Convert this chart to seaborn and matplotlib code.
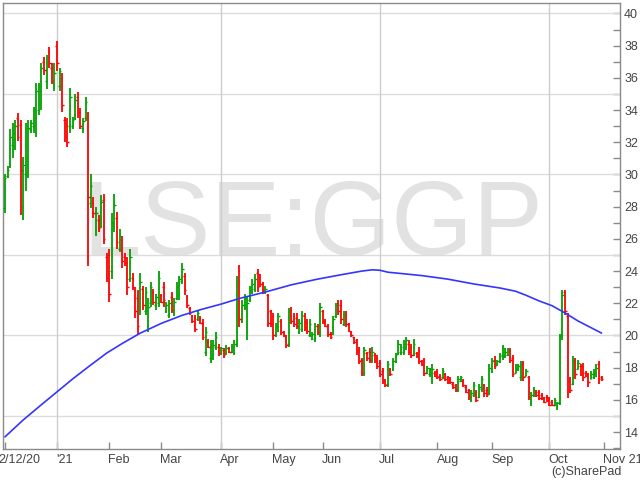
import matplotlib
matplotlib.use('Agg')
import matplotlib.pyplot as plt
import matplotlib.transforms as mtransforms
import seaborn as sns
import pandas as pd

# one bar per trading day, 2 Dec 2020 .. 29 Oct 2021
bar_open = [
    27.9, 29.9, 30.6, 31.8, 32.2, 33.5, 33.1, 28.0, 30.0, 31.0,
    32.8, 33.0, 33.5, 34.0, 35.2, 37.0, 35.8, 37.6, 36.6, 35.6,
    38.0, 35.5, 36.0, 33.4, 33.0, 33.0, 33.0, 33.7, 34.8, 33.9,
    32.9, 33.5, 33.6, 28.2, 28.3, 26.6, 27.2, 27.0, 28.4, 24.9,
    25.0, 24.0, 26.8, 27.3, 25.4, 25.9, 24.9, 24.5, 23.5, 23.6,
    22.8, 22.3, 21.6, 22.9, 21.5, 20.6, 22.0, 22.7, 21.9, 22.0,
    22.5, 23.0, 21.5, 21.3, 22.4, 21.4, 22.3, 22.5, 23.4, 23.7,
    22.4, 21.7, 21.2, 21.1, 21.0, 21.1, 20.8, 19.0, 19.6, 18.6,
    18.8, 19.3, 19.3, 18.9, 19.1, 18.9, 19.2, 19.0, 19.0, 19.5,
    24.0, 21.0, 21.9, 20.2, 22.2, 22.7, 22.9, 23.9, 23.6, 23.2,
    22.7, 22.5, 21.5, 21.2, 20.0, 20.3, 20.9, 20.2, 19.9, 19.5,
    21.6, 21.2, 21.1, 20.3, 20.4, 21.2, 20.8, 20.0, 19.8, 19.8,
    20.6, 20.1, 21.5, 20.9, 20.6, 20.1, 20.1, 21.2, 22.0, 21.9,
    20.7, 21.3, 20.7, 20.2, 19.9, 19.7, 19.1, 18.5, 17.7, 18.9,
    19.0, 18.5, 18.8, 18.6, 18.3, 17.8, 17.2, 17.0, 17.9, 17.9,
    18.4, 18.9, 19.0, 19.0, 19.3, 19.5, 19.3, 18.8, 18.9, 19.1,
    18.4, 18.4, 17.7, 17.6, 17.2, 17.7, 17.8, 17.5, 17.4, 17.6,
    17.4, 17.3, 17.0, 16.9, 16.7, 17.2, 17.2, 16.8, 16.6, 16.0,
    16.3, 16.5, 16.2, 16.7, 16.9, 16.6, 16.4, 17.9, 18.5, 18.2,
    18.4, 18.7, 18.8, 18.8, 19.1, 18.6, 17.7, 17.9, 17.4, 18.2,
    17.5, 17.4, 15.8, 16.3, 16.5, 16.5, 16.3, 16.1, 16.2, 16.1,
    15.9, 15.7, 15.6, 15.9, 20.0, 22.7, 21.2, 17.3, 17.0, 18.4,
    17.9, 18.1, 18.1, 17.7, 17.6, 17.3, 17.4, 17.5, 18.2, 17.4,
]
bar_high = [
    30.0, 30.5, 32.8, 33.2, 33.4, 33.8, 33.4, 31.1, 33.2, 33.4,
    33.4, 34.2, 35.7, 35.7, 36.9, 37.3, 37.4, 37.9, 36.9, 36.9,
    38.3, 36.6, 36.3, 33.6, 33.5, 35.4, 33.6, 35.0, 35.1, 34.1,
    33.5, 34.8, 33.9, 30.0, 28.6, 28.0, 27.5, 28.7, 28.8, 25.1,
    25.4, 27.6, 28.8, 27.7, 26.6, 26.2, 25.1, 24.9, 25.4, 23.9,
    23.0, 22.8, 23.9, 23.1, 23.0, 22.3, 23.3, 22.9, 22.6, 24.0,
    22.6, 23.3, 22.1, 22.2, 22.7, 22.3, 23.3, 23.7, 24.5, 23.9,
    22.5, 21.8, 21.3, 21.3, 21.6, 21.2, 21.0, 20.5, 19.8, 19.7,
    19.7, 20.2, 19.5, 19.3, 19.2, 19.4, 19.3, 19.5, 19.7, 23.7,
    24.4, 22.2, 22.6, 22.4, 23.1, 23.5, 23.8, 24.1, 23.8, 23.3,
    23.1, 22.6, 21.6, 21.4, 20.8, 21.4, 21.0, 20.3, 20.0, 21.7,
    21.8, 21.4, 21.4, 21.0, 21.5, 21.4, 21.0, 21.0, 20.2, 20.8,
    20.7, 22.0, 21.6, 21.0, 20.7, 20.2, 21.2, 22.0, 22.2, 22.2,
    21.5, 21.5, 20.8, 20.3, 19.9, 19.8, 19.3, 18.6, 19.3, 19.0,
    19.2, 19.3, 18.9, 18.8, 18.5, 18.0, 17.3, 18.4, 18.0, 18.6,
    18.9, 19.7, 19.5, 19.7, 19.9, 19.7, 19.5, 19.8, 19.0, 19.3,
    18.5, 18.6, 18.1, 18.0, 18.2, 17.8, 17.9, 17.6, 18.0, 17.7,
    17.5, 17.4, 17.1, 17.0, 17.5, 17.5, 17.3, 16.9, 16.7, 16.6,
    17.1, 16.6, 17.0, 17.5, 17.0, 16.8, 18.2, 18.6, 18.7, 18.5,
    18.9, 19.4, 19.2, 19.2, 19.2, 18.8, 18.2, 18.2, 18.4, 18.4,
    17.9, 17.5, 16.5, 16.8, 16.6, 16.6, 16.4, 16.2, 16.3, 16.2,
    16.0, 16.1, 15.9, 20.1, 22.8, 22.8, 21.4, 17.4, 18.7, 18.6,
    18.5, 18.2, 18.3, 17.8, 17.7, 17.8, 17.9, 18.2, 18.4, 17.5,
]
bar_low = [
    27.6, 29.8, 30.4, 31.0, 31.5, 32.1, 27.5, 27.2, 29.0, 29.8,
    32.6, 32.6, 32.3, 33.7, 34.0, 36.2, 35.3, 36.6, 35.6, 35.2,
    36.4, 35.2, 33.9, 32.0, 31.7, 32.6, 32.8, 33.4, 33.5, 32.8,
    32.6, 33.3, 24.3, 27.9, 27.3, 26.2, 26.4, 26.7, 25.7, 23.3,
    22.1, 23.5, 26.4, 25.4, 25.2, 24.2, 24.3, 22.5, 23.3, 22.8,
    21.1, 20.1, 21.3, 21.6, 21.3, 20.2, 21.8, 21.9, 21.6, 21.8,
    22.0, 21.8, 21.4, 21.1, 21.4, 21.2, 22.2, 22.2, 23.2, 22.5,
    21.7, 21.3, 20.8, 20.2, 20.9, 20.7, 19.7, 18.7, 19.2, 18.3,
    18.5, 19.1, 18.7, 18.8, 18.6, 18.8, 18.9, 18.9, 18.8, 19.3,
    20.5, 20.8, 21.6, 19.7, 22.1, 22.6, 22.7, 22.7, 23.0, 22.6,
    22.6, 20.5, 20.5, 19.7, 19.9, 20.2, 20.0, 19.9, 19.2, 19.3,
    20.7, 20.5, 20.4, 20.1, 20.2, 20.3, 20.1, 19.9, 19.7, 19.6,
    20.0, 19.9, 20.7, 20.5, 19.9, 19.8, 20.0, 21.1, 21.3, 20.7,
    20.6, 20.5, 20.2, 19.9, 19.5, 18.8, 18.2, 17.5, 17.5, 18.4,
    18.3, 18.3, 18.3, 17.9, 17.4, 17.0, 16.8, 16.8, 17.5, 17.8,
    18.3, 18.8, 18.8, 18.8, 19.1, 18.8, 18.6, 18.7, 18.6, 18.2,
    18.1, 17.5, 17.6, 17.4, 17.0, 17.4, 17.3, 17.2, 17.3, 17.2,
    17.0, 17.0, 16.7, 16.5, 16.5, 17.1, 16.8, 16.4, 16.0, 15.9,
    16.2, 15.9, 16.1, 16.5, 16.2, 16.2, 16.3, 17.7, 17.9, 18.1,
    18.3, 18.5, 18.6, 18.7, 18.3, 17.4, 17.7, 17.8, 17.2, 17.2,
    17.5, 16.0, 15.6, 16.2, 16.2, 16.0, 16.0, 15.8, 15.9, 15.6,
    15.6, 15.6, 15.4, 15.7, 19.7, 21.3, 16.1, 16.4, 16.9, 17.3,
    17.9, 17.5, 17.2, 17.4, 16.8, 17.3, 17.3, 17.4, 17.0, 17.2,
]
bar_close = [
    29.8, 30.3, 32.3, 32.6, 33.0, 32.3, 30.3, 30.6, 32.9, 32.9,
    33.2, 34.0, 35.2, 35.5, 36.6, 36.5, 36.9, 36.9, 35.8, 36.3,
    36.9, 36.4, 34.3, 32.3, 32.0, 34.8, 33.4, 34.6, 33.9, 33.0,
    33.3, 34.5, 28.6, 29.3, 27.6, 27.6, 26.7, 28.3, 26.0, 23.6,
    22.6, 27.0, 28.1, 25.8, 26.2, 24.6, 24.5, 23.0, 24.9, 23.0,
    21.5, 20.6, 23.3, 21.9, 22.7, 21.8, 23.0, 22.1, 22.4, 23.6,
    22.1, 22.2, 21.9, 22.0, 21.6, 22.1, 23.0, 23.5, 24.1, 22.8,
    21.9, 21.4, 20.9, 20.4, 21.4, 20.8, 19.9, 20.2, 19.3, 19.4,
    19.4, 19.9, 18.9, 19.2, 18.8, 19.2, 19.0, 19.3, 19.5, 23.3,
    21.0, 21.9, 22.3, 22.0, 22.8, 23.2, 23.5, 23.0, 23.2, 22.8,
    22.9, 20.8, 20.7, 20.0, 20.6, 21.2, 20.2, 20.0, 19.4, 21.5,
    20.9, 20.7, 20.6, 20.8, 21.3, 20.5, 20.3, 20.7, 20.1, 20.6,
    20.2, 21.8, 20.9, 20.6, 20.1, 19.9, 21.0, 21.9, 21.5, 21.0,
    21.3, 20.7, 20.3, 20.0, 19.6, 19.0, 18.4, 17.7, 19.1, 18.6,
    18.5, 19.0, 18.4, 18.1, 17.6, 17.2, 16.9, 18.2, 17.6, 18.4,
    18.8, 19.5, 19.3, 19.5, 19.7, 19.0, 18.8, 19.5, 18.7, 18.4,
    18.2, 17.7, 18.0, 17.9, 17.9, 17.5, 17.4, 17.3, 17.8, 17.3,
    17.1, 17.1, 16.8, 16.6, 17.3, 17.4, 16.9, 16.5, 16.2, 16.4,
    16.9, 16.0, 16.8, 17.3, 16.4, 16.3, 18.0, 18.4, 18.1, 18.4,
    18.8, 19.2, 19.0, 19.1, 18.5, 17.6, 18.0, 18.1, 18.2, 17.4,
    17.8, 16.2, 16.3, 16.6, 16.3, 16.1, 16.1, 15.9, 16.0, 15.7,
    15.7, 16.0, 15.8, 19.9, 22.5, 21.5, 17.2, 16.6, 18.4, 17.6,
    18.3, 17.6, 17.4, 17.5, 17.1, 17.6, 17.7, 18.0, 17.3, 17.3,
]

# month ticks (bar index of first trading day) and labels
month_pos = [0, 20, 40, 60, 83, 103, 122, 144, 166, 187, 209, 230]
month_labels = ['2/12/20', "'21", 'Feb', 'Mar', 'Apr', 'May', 'Jun',
                'Jul', 'Aug', 'Sep', 'Oct', 'Nov 21']
quarter_pos = [20, 83, 144, 209]

# long moving average
ma_pos = [0, 7, 14, 20, 26, 32, 39, 45, 52, 60, 68, 75, 83, 90, 100,
          110, 120, 130, 137, 141, 144, 147, 152, 160, 170, 180, 190,
          196, 200, 205, 210, 215, 220, 229]
ma_value = [13.7, 14.75, 15.7, 16.5, 17.3, 18.05, 18.9, 19.5, 20.15, 20.75,
            21.25, 21.6, 21.95, 22.3, 22.7, 23.15, 23.5, 23.8, 24.0,
            24.08, 24.05, 23.93, 23.85, 23.72, 23.5, 23.2, 22.95, 22.75,
            22.5, 22.15, 21.85, 21.4, 20.9, 20.15]

sns.set_style('white')
plt.rcParams['font.family'] = ['Liberation Sans', 'DejaVu Sans']

df = pd.DataFrame({'open': bar_open, 'high': bar_high,
                   'low': bar_low, 'close': bar_close})
df['day'] = range(len(df))
colors = ['#00a000' if c >= o else '#ff0000'
          for o, c in zip(df['open'], df['close'])]

fig = plt.figure(figsize=(6.4, 4.8), dpi=100)
ax = fig.add_axes([3 / 640, 31 / 480, 617 / 640, 446 / 480])

# watermark behind everything
ax.text(0.128, 0.435, 'LSE:GGP', transform=ax.transAxes, ha='left',
        va='baseline', fontsize=75.5, color='#e2e2e2', zorder=0)

# grid lines
for v in [15, 20, 25, 30, 35, 40]:
    ax.axhline(v, color='#dcdcdc', lw=1, zorder=1)
for p in quarter_pos:
    ax.axvline(p, color='#cdcdcd', lw=1, zorder=1)

# OHLC bars
ax.vlines(df['day'], df['low'], df['high'], colors=colors, lw=1.3, zorder=3)
ax.hlines(df['open'], df['day'] - 0.6, df['day'], colors=colors, lw=1, zorder=3)
ax.hlines(df['close'], df['day'], df['day'] + 0.6, colors=colors, lw=1, zorder=3)

# moving average
sns.lineplot(x=ma_pos, y=ma_value, color='#3535ff', lw=1.2, ax=ax, zorder=4)

ax.set_xlim(-0.73, 236.1)
ax.set_ylim(12.95, 40.65)
ax.set_xlabel('')
ax.set_ylabel('')

# right hand price axis, ticks point into the plot
ax.yaxis.tick_right()
ax.set_yticks(range(14, 41, 2))
ax.set_yticks(range(13, 41), minor=True)
ax.tick_params(axis='y', which='both', right=True, left=False,
               labelright=True, labelleft=False, direction='in', length=5,
               width=1, color='#8a8a8a', labelsize=9, labelcolor='#444444',
               pad=3)

# month ticks on the bottom, labels start at the tick
ax.set_xticks(month_pos)
ax.set_xticklabels([])
ax.tick_params(axis='x', bottom=True, direction='in', length=5, width=1,
               color='#8a8a8a')
trans = mtransforms.blended_transform_factory(ax.transData, ax.transAxes)
for p, lab in zip(month_pos, month_labels):
    dx = -2.6 if p == 0 else -0.3
    ax.text(p + dx, -0.011, lab, transform=trans, ha='left', va='top',
            fontsize=9, color='#444444')

for s in ax.spines.values():
    s.set_color('#8a8a8a')
    s.set_linewidth(1)

fig.text(622 / 640, 1 - 478.5 / 480, '(c)SharePad', ha='right', va='bottom',
         fontsize=9, color='#444444')

fig.savefig('out.png', dpi=100)
